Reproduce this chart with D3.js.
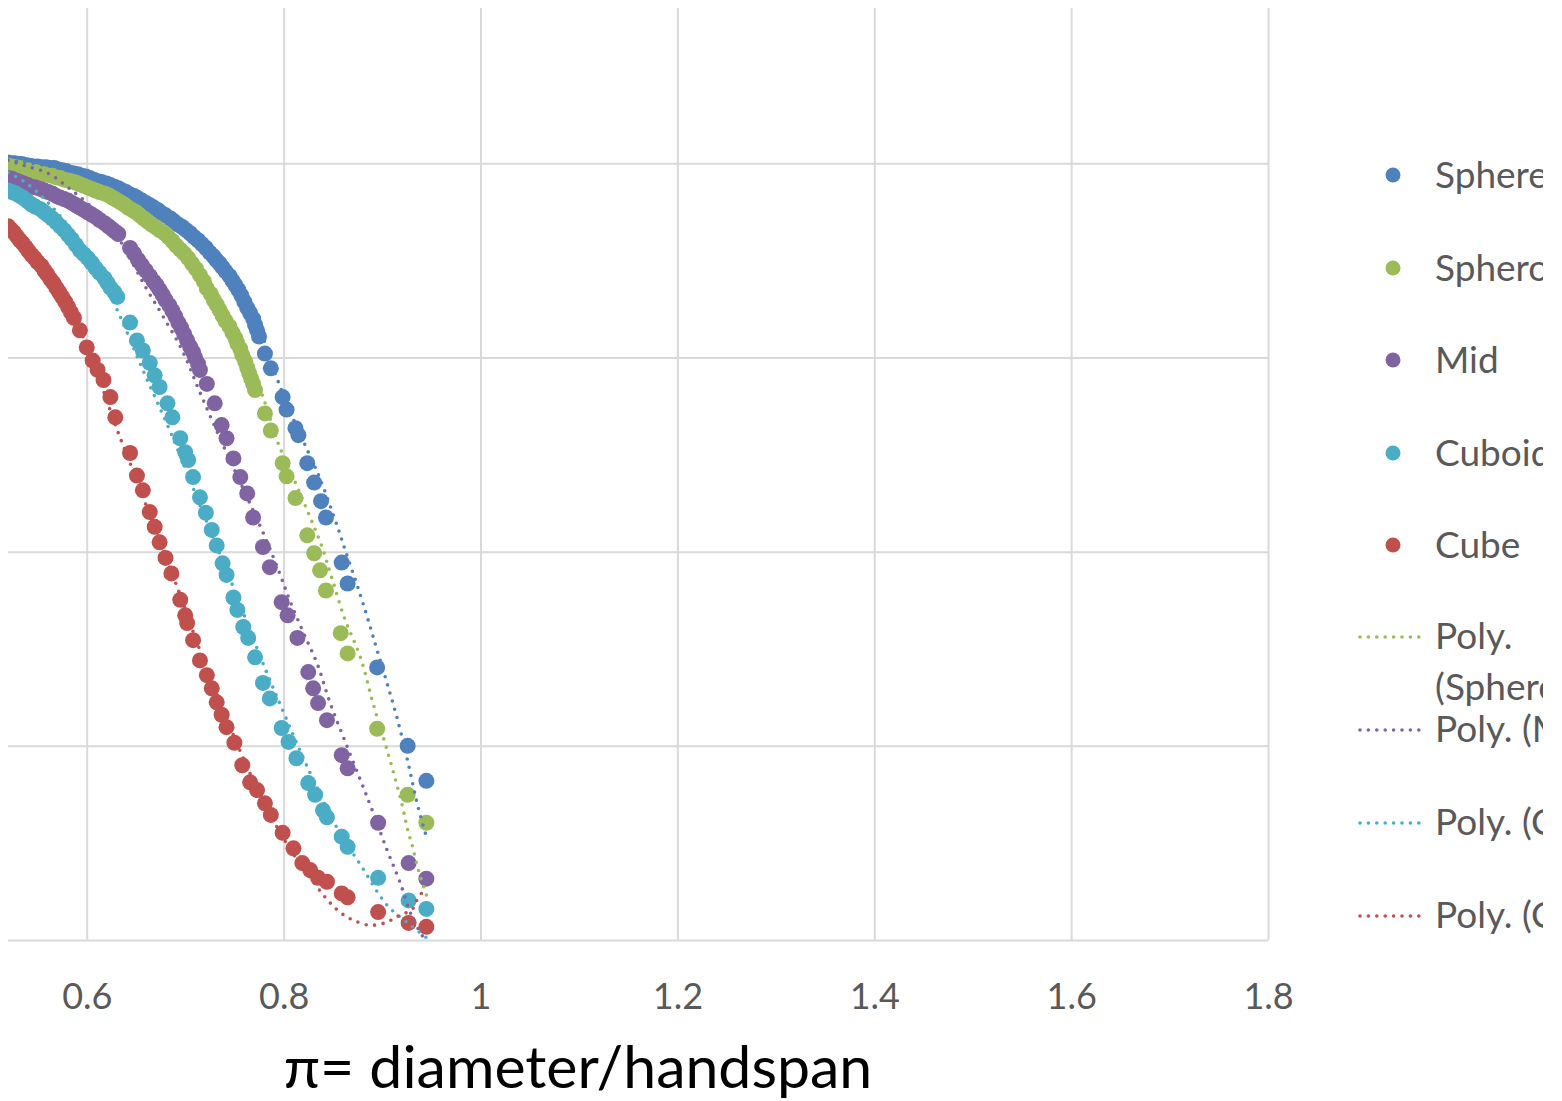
<!DOCTYPE html>
<html><head><meta charset="utf-8">
<script src="https://cdn.jsdelivr.net/npm/d3@7"></script>
<style>
html,body{margin:0;padding:0;background:#fff;}
svg{display:block;}
</style></head>
<body>
<svg id="chart" width="1562" height="1101"></svg>
<script>
// ---------- DATA ----------
const xTicks = [0.6, 0.8, 1, 1.2, 1.4, 1.6, 1.8];
const yGrid = [0, 0.25, 0.5, 0.75, 1];
const xTitle = "π= diameter/handspan";

const seriesNames = ["Sphere", "Spheroid", "Mid", "Cuboid", "Cube"];
const trendNames = ["Poly. (Spheroid)", "Poly. (Mid)", "Poly. (Cuboid)", "Poly. (Cube)"];

const sphere = [[0.520,1.001],[0.524,1.000],[0.527,1.000],[0.531,0.999],[0.534,0.999],[0.538,0.998],[0.542,0.997],[0.546,0.996],[0.550,0.996],[0.555,0.995],[0.559,0.995],[0.563,0.994],[0.567,0.994],[0.571,0.992],[0.575,0.991],[0.579,0.990],[0.583,0.988],[0.587,0.987],[0.591,0.986],[0.595,0.984],[0.599,0.983],[0.603,0.981],[0.607,0.979],[0.611,0.977],[0.615,0.976],[0.620,0.974],[0.624,0.972],[0.628,0.970],[0.632,0.968],[0.636,0.965],[0.640,0.963],[0.644,0.960],[0.648,0.958],[0.652,0.955],[0.656,0.952],[0.660,0.949],[0.664,0.946],[0.668,0.943],[0.672,0.940],[0.676,0.936],[0.680,0.933],[0.685,0.929],[0.689,0.925],[0.693,0.921],[0.697,0.918],[0.701,0.914],[0.705,0.910],[0.709,0.905],[0.713,0.901],[0.717,0.896],[0.721,0.891],[0.725,0.885],[0.729,0.880],[0.732,0.875],[0.735,0.871],[0.738,0.866],[0.741,0.861],[0.745,0.855],[0.748,0.849],[0.751,0.843],[0.754,0.837],[0.757,0.830],[0.760,0.822],[0.763,0.814],[0.766,0.807],[0.769,0.800],[0.771,0.792],[0.773,0.785],[0.775,0.777],[0.781,0.755],[0.787,0.736],[0.799,0.699],[0.803,0.683],[0.812,0.659],[0.815,0.650],[0.824,0.614],[0.831,0.589],[0.838,0.565],[0.843,0.544],[0.859,0.486],[0.865,0.459],[0.895,0.351],[0.926,0.250],[0.945,0.205]];

const spheroid = [[0.520,0.997],[0.524,0.996],[0.528,0.995],[0.532,0.994],[0.536,0.992],[0.540,0.991],[0.544,0.990],[0.548,0.989],[0.553,0.987],[0.557,0.986],[0.561,0.985],[0.565,0.984],[0.569,0.982],[0.573,0.981],[0.577,0.979],[0.581,0.978],[0.585,0.977],[0.589,0.975],[0.593,0.973],[0.597,0.971],[0.601,0.969],[0.605,0.967],[0.609,0.965],[0.613,0.963],[0.618,0.961],[0.622,0.959],[0.626,0.956],[0.630,0.953],[0.634,0.950],[0.638,0.947],[0.642,0.943],[0.646,0.940],[0.650,0.937],[0.654,0.933],[0.658,0.929],[0.662,0.925],[0.666,0.921],[0.670,0.918],[0.674,0.914],[0.679,0.910],[0.683,0.905],[0.687,0.900],[0.691,0.894],[0.695,0.889],[0.699,0.884],[0.703,0.878],[0.707,0.871],[0.711,0.864],[0.715,0.856],[0.719,0.848],[0.722,0.839],[0.726,0.832],[0.729,0.824],[0.732,0.818],[0.735,0.811],[0.738,0.804],[0.741,0.797],[0.745,0.790],[0.748,0.782],[0.751,0.775],[0.753,0.768],[0.756,0.761],[0.758,0.753],[0.761,0.745],[0.763,0.737],[0.765,0.730],[0.767,0.723],[0.769,0.716],[0.771,0.708],[0.781,0.678],[0.787,0.656],[0.799,0.614],[0.803,0.597],[0.812,0.569],[0.824,0.521],[0.831,0.498],[0.837,0.476],[0.843,0.450],[0.858,0.395],[0.865,0.369],[0.895,0.272],[0.926,0.187],[0.945,0.151]];

const mid = [[0.520,0.981],[0.524,0.980],[0.528,0.978],[0.532,0.976],[0.536,0.974],[0.540,0.972],[0.544,0.970],[0.548,0.969],[0.553,0.967],[0.557,0.965],[0.561,0.963],[0.565,0.961],[0.569,0.958],[0.573,0.956],[0.577,0.954],[0.581,0.952],[0.585,0.949],[0.589,0.946],[0.593,0.943],[0.597,0.940],[0.601,0.937],[0.605,0.934],[0.609,0.931],[0.613,0.927],[0.618,0.923],[0.622,0.919],[0.626,0.915],[0.629,0.912],[0.632,0.909],[0.644,0.891],[0.648,0.884],[0.652,0.876],[0.656,0.869],[0.660,0.862],[0.664,0.855],[0.668,0.848],[0.671,0.843],[0.674,0.837],[0.677,0.831],[0.680,0.824],[0.684,0.817],[0.687,0.810],[0.690,0.803],[0.693,0.795],[0.696,0.788],[0.699,0.780],[0.702,0.772],[0.705,0.764],[0.708,0.757],[0.710,0.750],[0.713,0.742],[0.715,0.734],[0.722,0.716],[0.730,0.691],[0.737,0.663],[0.742,0.646],[0.749,0.620],[0.756,0.596],[0.763,0.575],[0.769,0.544],[0.779,0.506],[0.786,0.480],[0.798,0.435],[0.804,0.418],[0.814,0.389],[0.825,0.345],[0.830,0.324],[0.835,0.305],[0.844,0.283],[0.859,0.238],[0.865,0.221],[0.896,0.151],[0.927,0.099],[0.945,0.079]];

const cuboid = [[0.520,0.965],[0.524,0.963],[0.528,0.961],[0.532,0.958],[0.536,0.955],[0.540,0.951],[0.544,0.947],[0.548,0.944],[0.553,0.941],[0.557,0.937],[0.561,0.933],[0.565,0.929],[0.569,0.924],[0.573,0.919],[0.577,0.914],[0.581,0.908],[0.585,0.902],[0.589,0.895],[0.593,0.888],[0.597,0.883],[0.601,0.878],[0.605,0.872],[0.609,0.865],[0.613,0.859],[0.618,0.852],[0.621,0.846],[0.624,0.840],[0.628,0.834],[0.631,0.828],[0.644,0.795],[0.651,0.772],[0.657,0.759],[0.664,0.743],[0.669,0.727],[0.674,0.712],[0.682,0.691],[0.687,0.673],[0.695,0.646],[0.700,0.628],[0.703,0.618],[0.708,0.596],[0.715,0.570],[0.721,0.550],[0.727,0.528],[0.732,0.508],[0.738,0.485],[0.742,0.470],[0.749,0.441],[0.753,0.425],[0.759,0.403],[0.764,0.389],[0.771,0.364],[0.779,0.331],[0.786,0.311],[0.798,0.273],[0.805,0.255],[0.813,0.234],[0.825,0.202],[0.832,0.187],[0.840,0.167],[0.844,0.158],[0.859,0.133],[0.865,0.120],[0.896,0.080],[0.927,0.051],[0.945,0.040]];

const cube = [[0.520,0.919],[0.523,0.915],[0.526,0.911],[0.529,0.906],[0.532,0.901],[0.535,0.897],[0.538,0.892],[0.541,0.887],[0.544,0.882],[0.547,0.878],[0.550,0.873],[0.554,0.868],[0.557,0.862],[0.560,0.857],[0.563,0.851],[0.566,0.846],[0.569,0.840],[0.572,0.834],[0.575,0.828],[0.578,0.822],[0.581,0.815],[0.584,0.808],[0.587,0.801],[0.593,0.785],[0.600,0.763],[0.606,0.746],[0.611,0.734],[0.617,0.721],[0.624,0.699],[0.629,0.673],[0.644,0.627],[0.651,0.598],[0.657,0.579],[0.664,0.551],[0.669,0.532],[0.674,0.512],[0.680,0.492],[0.686,0.472],[0.695,0.438],[0.700,0.418],[0.702,0.408],[0.708,0.386],[0.715,0.360],[0.722,0.341],[0.727,0.324],[0.732,0.306],[0.737,0.290],[0.742,0.274],[0.750,0.254],[0.758,0.225],[0.766,0.203],[0.773,0.193],[0.781,0.176],[0.787,0.161],[0.799,0.138],[0.810,0.118],[0.819,0.099],[0.827,0.090],[0.835,0.080],[0.844,0.075],[0.859,0.060],[0.865,0.055],[0.896,0.036],[0.927,0.022],[0.945,0.017]];

// polynomial trendlines
const sphereTrend = [[0.520,1.004],[0.563,0.996],[0.613,0.978],[0.664,0.947],[0.715,0.897],[0.756,0.834],[0.776,0.785],[0.793,0.724],[0.806,0.682],[0.824,0.631],[0.837,0.594],[0.855,0.531],[0.862,0.504],[0.878,0.444],[0.888,0.403],[0.895,0.373],[0.905,0.331],[0.915,0.287],[0.925,0.236],[0.931,0.202],[0.936,0.174],[0.945,0.133]];
const spheroidTrend = [[0.520,1.000],[0.573,0.987],[0.624,0.961],[0.674,0.916],[0.715,0.860],[0.756,0.772],[0.781,0.692],[0.794,0.641],[0.814,0.583],[0.827,0.544],[0.839,0.506],[0.849,0.466],[0.862,0.414],[0.878,0.364],[0.891,0.304],[0.905,0.245],[0.920,0.176],[0.926,0.142],[0.931,0.120],[0.936,0.094],[0.945,0.058]];
const midTrend = [[0.520,1.004],[0.537,0.997],[0.561,0.987],[0.581,0.969],[0.603,0.946],[0.624,0.920],[0.642,0.882],[0.660,0.840],[0.677,0.804],[0.697,0.759],[0.715,0.705],[0.735,0.647],[0.756,0.589],[0.781,0.519],[0.796,0.472],[0.806,0.438],[0.820,0.396],[0.834,0.356],[0.847,0.306],[0.862,0.257],[0.878,0.206],[0.890,0.167],[0.905,0.116],[0.918,0.075],[0.931,0.028],[0.945,-0.003]];
const cuboidTrend = [[0.520,0.988],[0.537,0.976],[0.561,0.949],[0.583,0.916],[0.608,0.869],[0.631,0.811],[0.657,0.734],[0.685,0.654],[0.715,0.560],[0.748,0.457],[0.781,0.350],[0.801,0.290],[0.824,0.223],[0.854,0.145],[0.880,0.093],[0.905,0.045],[0.926,0.022],[0.945,0.003]];
const cubeTrend = [[0.520,0.922],[0.553,0.869],[0.593,0.785],[0.632,0.653],[0.644,0.614],[0.671,0.524],[0.692,0.454],[0.715,0.373],[0.746,0.273],[0.776,0.187],[0.806,0.118],[0.830,0.075],[0.845,0.051],[0.857,0.036],[0.870,0.026],[0.888,0.019],[0.905,0.023],[0.915,0.030],[0.931,0.040],[0.936,0.053],[0.945,0.068]];

const colors = ["#4F81BD", "#9BBB59", "#8064A2", "#4BACC6", "#C0504D"];

// ---------- CHART ----------
const svg = d3.select("#chart");
const W = 1562, H = 1101;
const plot = {left: 8, right: 1268, top: 8, bottom: 940};

const x = d3.scaleLinear().domain([0.52, 1.8]).range([plot.left, plot.right]);
const y = d3.scaleLinear().domain([0, 1.2]).range([plot.bottom, plot.top]);

svg.append("rect").attr("width", W).attr("height", H).attr("fill", "#fff");

const defs = svg.append("defs");
defs.append("clipPath").attr("id", "plotClip").append("rect")
  .attr("x", plot.left).attr("y", plot.top)
  .attr("width", plot.right - plot.left).attr("height", plot.bottom - plot.top);
defs.append("clipPath").attr("id", "legClip").append("rect")
  .attr("x", 1300).attr("y", 0).attr("width", 243).attr("height", H);

// gridlines
const gridColor = "#d9d9d9";
const xGridAxis = d3.axisBottom(x).tickValues(xTicks).tickSize(-(plot.bottom - plot.top)).tickFormat("");
svg.append("g").attr("transform", `translate(0,${plot.bottom})`).call(xGridAxis)
  .call(g => g.select(".domain").remove())
  .call(g => g.selectAll("line").attr("stroke", gridColor).attr("stroke-width", 2));

const yGridAxis = d3.axisLeft(y).tickValues(yGrid).tickSize(-(plot.right - plot.left)).tickFormat("");
svg.append("g").attr("transform", `translate(${plot.left},0)`).call(yGridAxis)
  .call(g => g.select(".domain").remove())
  .call(g => g.selectAll("line").attr("stroke", gridColor).attr("stroke-width", 2));

// x axis tick labels
const xAxis = d3.axisBottom(x).tickValues(xTicks).tickSize(0).tickPadding(43).tickFormat(d3.format(""));
svg.append("g").attr("transform", `translate(0,${plot.bottom})`).call(xAxis)
  .call(g => g.select(".domain").remove())
  .call(g => g.selectAll("text").attr("font-family", "Lato, 'Open Sans', sans-serif")
    .attr("font-size", 36).attr("fill", "#595959"));

// axis title
svg.append("text").attr("x", 578).attr("y", 1088).attr("text-anchor", "middle")
  .attr("font-family", "Lato, 'Open Sans', sans-serif").attr("font-size", 59)
  .attr("fill", "#000").text(xTitle);

// marks
const marks = svg.append("g").attr("clip-path", "url(#plotClip)");
const allSeries = [sphere, spheroid, mid, cuboid, cube];
allSeries.forEach((data, i) => {
  marks.append("g").selectAll("circle").data(data).join("circle")
    .attr("cx", d => x(d[0])).attr("cy", d => y(d[1])).attr("r", 8)
    .attr("fill", colors[i]);
});

const line = d3.line().x(d => x(d[0])).y(d => y(d[1])).curve(d3.curveCatmullRom.alpha(0.5));
const trends = [sphereTrend, spheroidTrend, midTrend, cuboidTrend, cubeTrend];
trends.forEach((data, i) => {
  marks.append("path").datum(data).attr("d", line)
    .attr("fill", "none").attr("stroke", colors[i]).attr("stroke-width", 3.6)
    .attr("stroke-linecap", "round").attr("stroke-dasharray", "0 8.5");
});

// legend
const leg = svg.append("g").attr("clip-path", "url(#legClip)");
const legFont = "Lato, 'Open Sans', sans-serif";
const markerRows = [175, 268, 360, 453, 545];
seriesNames.forEach((name, i) => {
  leg.append("circle").attr("cx", 1393).attr("cy", markerRows[i]).attr("r", 7.5).attr("fill", colors[i]);
  leg.append("text").attr("x", 1435).attr("y", markerRows[i] + 13)
    .attr("font-family", legFont).attr("font-size", 37).attr("fill", "#595959").text(name);
});
const trendRows = [637, 730, 823, 916];
const trendColors = [colors[1], colors[2], colors[3], colors[4]];
trendNames.forEach((name, i) => {
  leg.append("line").attr("x1", 1360).attr("x2", 1427).attr("y1", trendRows[i]).attr("y2", trendRows[i])
    .attr("stroke", trendColors[i]).attr("stroke-width", 3.6).attr("stroke-linecap", "round")
    .attr("stroke-dasharray", "0 8.4");
  const t = leg.append("text").attr("x", 1435).attr("y", trendRows[i] + 12)
    .attr("font-family", legFont).attr("font-size", 37).attr("fill", "#595959");
  if (i === 0) {
    const parts = name.split(" ");
    t.append("tspan").attr("x", 1435).text(parts[0]);
    t.append("tspan").attr("x", 1435).attr("dy", 51).text(parts.slice(1).join(" "));
  } else {
    t.text(name);
  }
});
</script>
</body></html>
